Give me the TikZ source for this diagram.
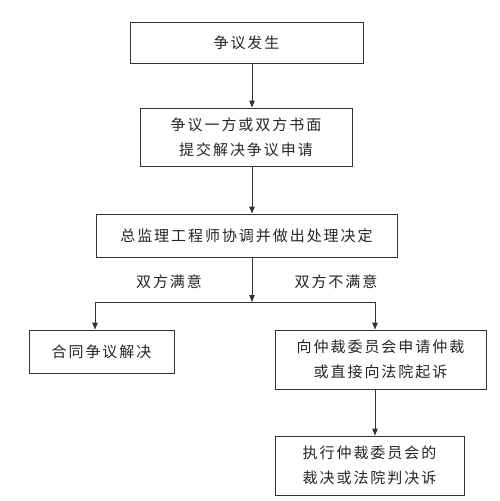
\documentclass[tikz,border=0pt]{standalone}
\usepackage{fontspec}
\newfontfamily\cjk[LetterSpace=13]{Noto Sans CJK SC}
\usetikzlibrary{arrows.meta}
\definecolor{ln}{HTML}{333333}
\begin{document}
\begin{tikzpicture}[x=1pt,y=-1pt,
  box/.style={draw=ln,line width=0.9pt,minimum width=#1,inner sep=0pt,align=center,
    font={\cjk\fontsize{15}{25}\selectfont},text=black!85},
  lab/.style={font={\cjk\fontsize{15}{25}\selectfont},text=black!85,inner sep=0pt},
  arr/.style={draw=ln,line width=0.9pt,-{Triangle[length=7pt,width=5.5pt]}},
  ln/.style={draw=ln,line width=0.9pt}]
\useasboundingbox[fill=white] (0,0) rectangle (500,501);
\node[box=233pt,minimum height=41pt] (b1) at (246.5,42.5) {争议发生};
\node[box=212pt,minimum height=58pt] (b2) at (246,137) {争议一方或双方书面\\提交解决争议申请};
\node[box=301pt,minimum height=43pt] (b3) at (246.5,235.5) {总监理工程师协调并做出处理决定};
\node[box=145pt,minimum height=43pt] (b4) at (101.5,351.5) {合同争议解决};
\node[box=211pt,minimum height=59pt] (b5) at (380.5,359.5) {向仲裁委员会申请仲裁\\或直接向法院起诉};
\node[box=189pt,minimum height=59pt] (b6) at (369.5,465.5) {执行仲裁委员会的\\裁决或法院判决诉};
\node[lab] (l1) at (169,282) {双方满意};
\node[lab] (l2) at (336,282) {双方不满意};
\coordinate (ax) at (252,0);
\coordinate (j) at (252,302);
\coordinate (jl) at (95,302);
\coordinate (jr) at (375,302);
\draw[arr] (b1.south -| ax) -- (b2.north -| ax);
\draw[arr] (b2.south -| ax) -- (b3.north -| ax);
\draw[arr] (b3.south -| ax) -- (j);
\draw[ln] (jl) -- (jr);
\draw[arr] (jl) -- (jl |- b4.north);
\draw[arr] (jr) -- (jr |- b5.north);
\draw[arr] (b5.south -| jr) -- (b6.north -| jr);
\end{tikzpicture}
\end{document}
